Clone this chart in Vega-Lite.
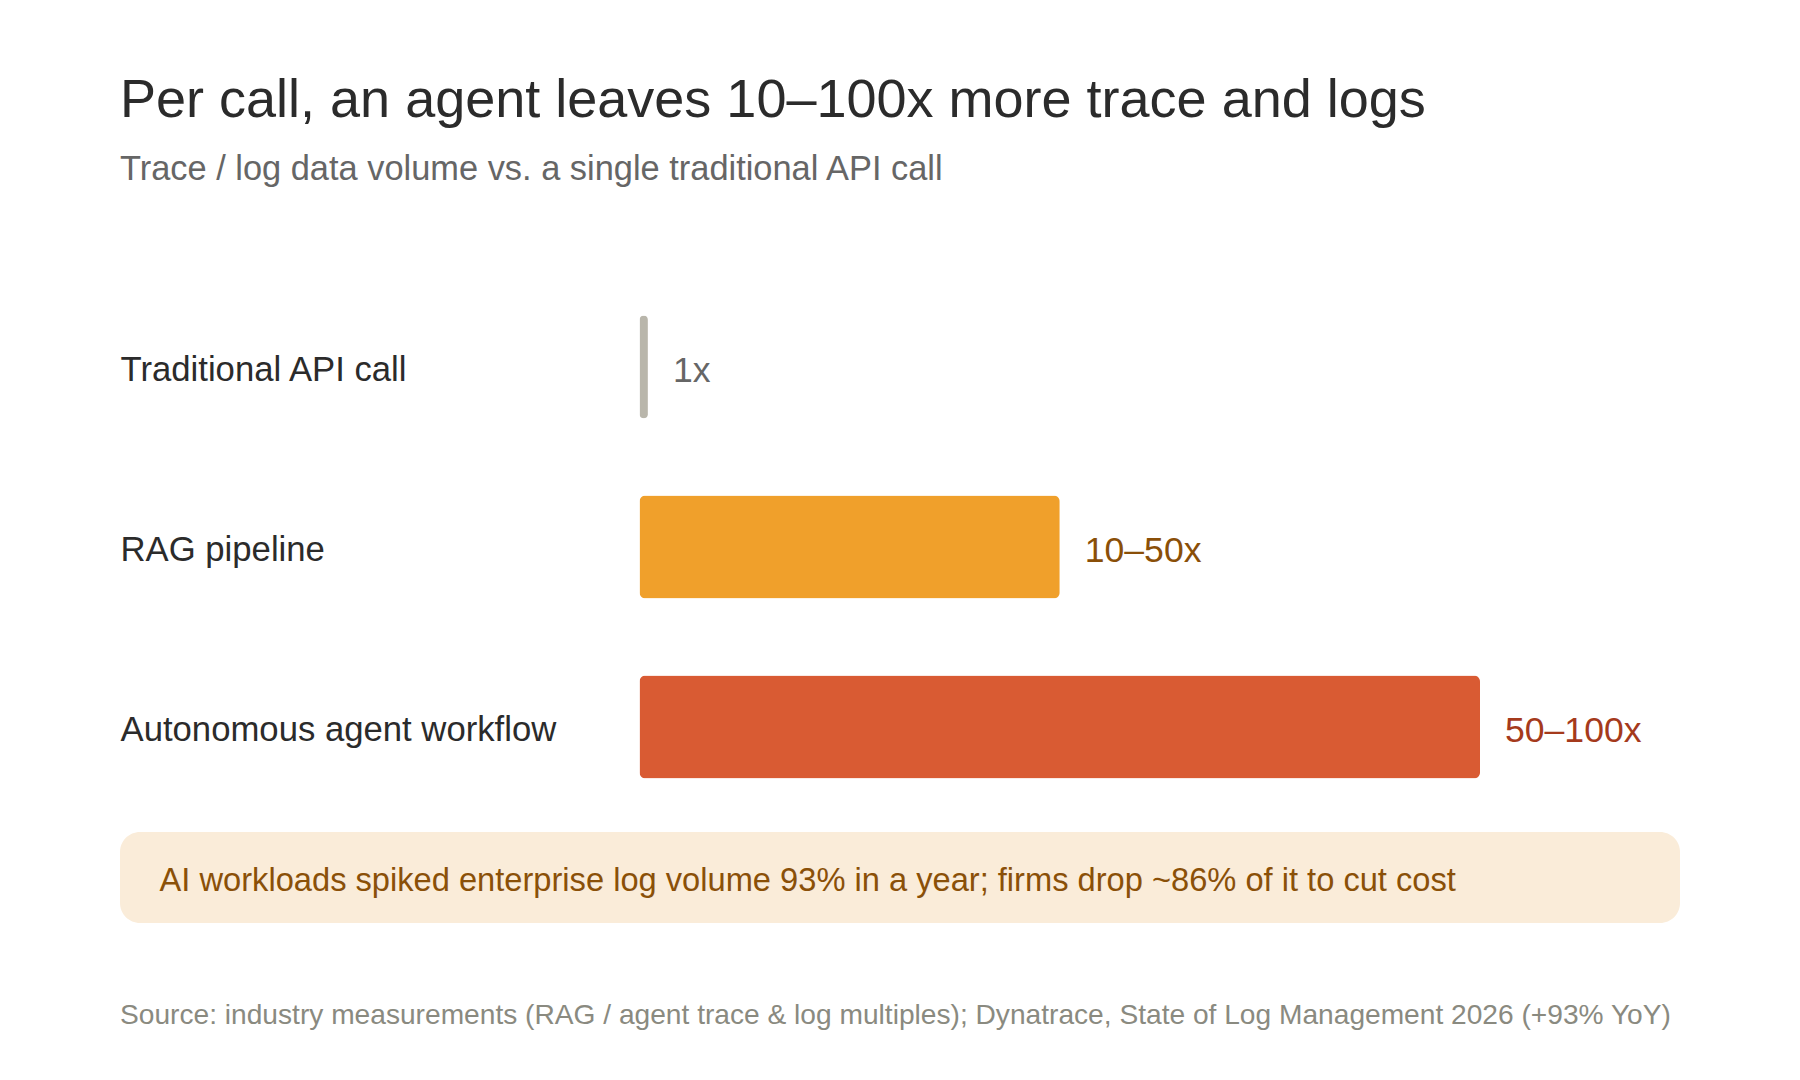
{
  "$schema": "https://vega.github.io/schema/vega-lite/v6.json",
  "background": "white",
  "padding": {"left": 120, "top": 74, "right": 0, "bottom": 0},
  "autosize": {"type": "pad"},
  "config": {"font": "Liberation Sans", "view": {"stroke": null}},
  "title": {
    "text": "Per call, an agent leaves 10–100x more trace and logs",
    "subtitle": "Trace / log data volume vs. a single traditional API call",
    "anchor": "start",
    "frame": "group",
    "fontSize": 54,
    "fontWeight": "normal",
    "color": "#2b2b2b",
    "subtitleFontSize": 34.4,
    "subtitleColor": "#666666",
    "subtitlePadding": 25,
    "offset": 90.5
  },
  "bounds": "flush",
  "spacing": 15,
  "vconcat": [
    {
      "width": 1560,
      "height": 540,
      "data": {"values": [
        {"category": "Traditional API call", "multiple": 1, "label": "1x"},
        {"category": "RAG pipeline", "multiple": 50, "label": "10–50x"},
        {"category": "Autonomous agent workflow", "multiple": 100, "label": "50–100x"}
      ]},
      "encoding": {
        "y": {
          "field": "category",
          "type": "nominal",
          "sort": null,
          "scale": {"paddingInner": 0.428, "paddingOuter": 0.214},
          "axis": {
            "title": null,
            "ticks": false,
            "domain": false,
            "grid": false,
            "labelAlign": "left",
            "labelBaseline": "middle",
            "labelPadding": 0,
            "labelOffset": 3.5,
            "labelFontSize": 34.7,
            "labelColor": "#2b2b2b",
            "labelLimit": 600
          }
        }
      },
      "layer": [
        {
          "mark": {"type": "bar", "cornerRadius": 6},
          "encoding": {
            "x": {
              "field": "multiple",
              "type": "quantitative",
              "scale": {"domain": [0, 100], "range": [519.5, 1360]},
              "axis": null
            },
            "color": {
              "field": "category",
              "type": "nominal",
              "scale": {
                "domain": ["Traditional API call", "RAG pipeline", "Autonomous agent workflow"],
                "range": ["#b9b6ab", "#f0a02b", "#d95b33"]
              },
              "legend": null
            }
          }
        },
        {
          "mark": {"type": "text", "align": "left", "baseline": "middle", "dx": 25, "dy": 3.5, "fontSize": 35.6},
          "encoding": {
            "x": {"field": "multiple", "type": "quantitative"},
            "text": {"field": "label"},
            "color": {
              "field": "category",
              "type": "nominal",
              "scale": {
                "domain": ["Traditional API call", "RAG pipeline", "Autonomous agent workflow"],
                "range": ["#666666", "#8a4f08", "#a53a1c"]
              },
              "legend": null
            }
          }
        }
      ],
      "resolve": {"scale": {"color": "independent"}}
    },
    {
      "width": 1560,
      "height": 91,
      "view": {"fill": "#faecd9", "cornerRadius": 20, "stroke": null},
      "data": {"values": [
        {"note": "AI workloads spiked enterprise log volume 93% in a year; firms drop ~86% of it to cut cost"}
      ]},
      "mark": {"type": "text", "align": "left", "baseline": "middle", "dx": -740.4, "dy": 3, "fontSize": 32.65, "color": "#8a5008"},
      "encoding": {"text": {"field": "note"}},
      "title": {
        "text": "Source: industry measurements (RAG / agent trace & log multiples); Dynatrace, State of Log Management 2026 (+93% YoY)",
        "orient": "bottom",
        "anchor": "start",
        "frame": "group",
        "fontSize": 28.15,
        "fontWeight": "normal",
        "color": "#8a8a80",
        "baseline": "top",
        "offset": 79
      }
    }
  ]
}
